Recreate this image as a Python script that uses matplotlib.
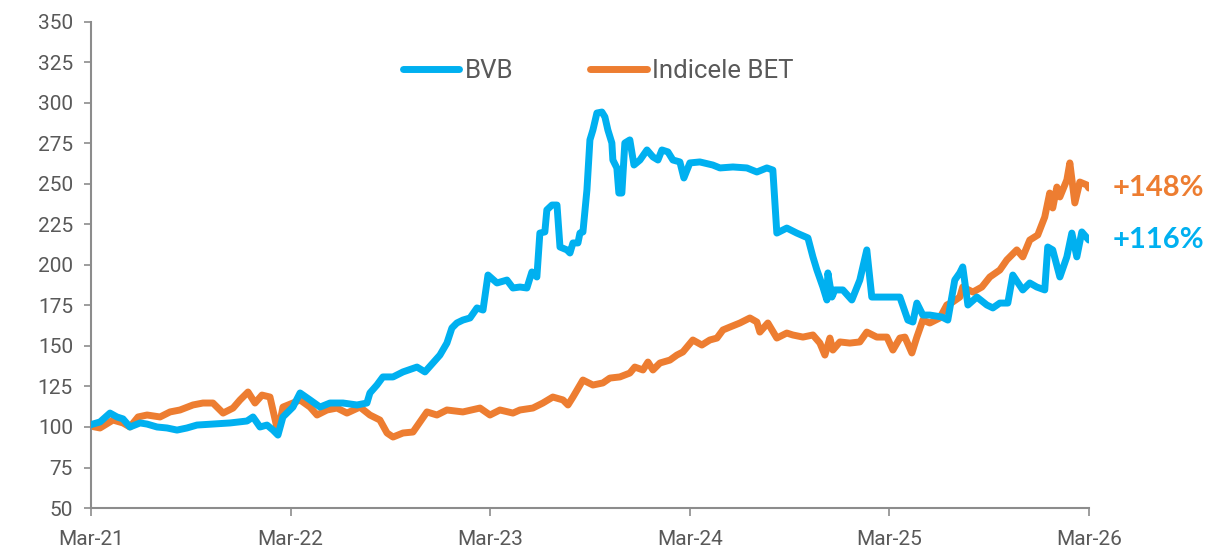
import matplotlib
matplotlib.use("Agg")
import matplotlib.pyplot as plt
import numpy as np

# months since Mar-2021
bvb_months = [0, 0.54, 1.14, 1.56, 1.92, 2.34, 2.95, 3.37, 3.97, 4.57, 5.17, 5.77, 6.37, 7.33, 8.36,
              9.38, 9.74, 10.16, 10.58, 10.94, 11.24, 11.54, 12.14, 12.57, 13.17, 13.77, 14.37, 15.15,
              15.99, 16.59, 16.77, 17.19, 17.55, 18.16, 18.76, 19.60, 20.08, 20.56, 20.98, 21.40, 21.70,
              22.00, 22.36, 22.79, 23.21, 23.57, 23.87, 24.41, 25.01, 25.37, 25.79, 26.21, 26.51, 26.81,
              26.99, 27.29, 27.41, 27.72, 28.02, 28.20, 28.62, 28.80, 28.98, 29.28, 29.40, 29.58, 29.82,
              30.00, 30.18, 30.42, 30.72, 30.90, 31.08, 31.32, 31.38, 31.62, 31.74, 31.92, 32.10, 32.40,
              32.65, 33.01, 33.43, 33.79, 34.09, 34.33, 34.69, 34.99, 35.41, 35.65, 36.01, 36.61, 37.39,
              37.82, 38.60, 39.44, 40.04, 40.64, 41.00, 41.24, 41.84, 42.44, 43.11, 43.41, 43.65, 44.01,
              44.25, 44.31, 44.55, 44.73, 45.21, 45.75, 46.23, 46.65, 46.95, 47.43, 48.22, 48.64, 49.12,
              49.42, 49.66, 50.02, 50.44, 51.16, 51.52, 51.94, 52.24, 52.42, 52.73, 53.27, 53.87, 54.23,
              54.65, 55.13, 55.43, 56.03, 56.45, 56.87, 57.35, 57.53, 57.83, 58.26, 58.68, 58.98, 59.28,
              59.58, 60.0]
bvb_values = [101.5, 103.1, 108.6, 106.2, 105.0, 100.0, 102.5, 101.8, 100.0, 99.4, 98.1, 99.4, 101.2, 101.8,
              102.5, 103.7, 106.2, 100.0, 101.2, 98.1, 95.0, 106.2, 112.3, 121.0, 116.7, 112.3, 114.8, 114.8,
              113.6, 114.8, 121.0, 125.9, 130.9, 130.9, 134.0, 137.0, 134.0, 139.5, 144.4, 151.8, 161.1,
              164.2, 166.0, 167.3, 173.5, 172.2, 193.8, 188.9, 190.7, 185.8, 186.4, 185.8, 195.7, 192.6,
              219.7, 220.4, 234.0, 237.0, 237.0, 211.1, 209.3, 207.4, 213.6, 213.6, 219.7, 220.4, 246.3,
              277.2, 283.3, 293.8, 294.4, 291.4, 283.3, 275.3, 264.8, 259.9, 244.4, 244.4, 275.3, 277.2,
              261.7, 264.8, 271.0, 266.7, 264.8, 271.0, 269.8, 264.8, 263.6, 253.7, 263.0, 263.6, 261.7,
              259.9, 260.5, 259.9, 257.4, 259.9, 258.6, 219.7, 222.8, 219.7, 216.7, 205.0, 196.9, 186.4,
              178.4, 195.1, 180.2, 184.6, 184.6, 178.4, 190.7, 209.3, 180.2, 180.2, 180.2, 180.2, 166.0,
              164.8, 176.5, 169.1, 169.1, 167.9, 166.0, 190.7, 195.1, 198.8, 175.3, 180.2, 175.3, 173.5,
              176.5, 176.5, 193.8, 184.6, 188.9, 186.4, 184.6, 211.1, 209.3, 192.6, 205.0, 219.7, 205.0,
              220.4, 215.4]

bet_months = [0, 0.54, 1.32, 1.92, 2.34, 2.83, 3.37, 4.15, 4.75, 5.35, 6.13, 6.73, 7.33, 7.94, 8.54, 8.96,
              9.44, 9.86, 10.28, 10.76, 11.24, 11.54, 12.14, 12.57, 13.17, 13.59, 14.19, 14.79, 15.39,
              16.17, 16.77, 17.37, 17.80, 18.16, 18.76, 19.36, 19.78, 20.20, 20.80, 21.40, 22.36, 23.39,
              23.99, 24.59, 25.37, 25.79, 26.57, 27.17, 27.77, 28.38, 28.68, 28.98, 29.58, 30.18, 30.78,
              31.20, 31.80, 32.40, 32.70, 33.19, 33.49, 33.79, 34.21, 34.81, 35.23, 35.59, 36.19, 36.73,
              37.21, 37.64, 38.00, 38.42, 39.02, 39.62, 40.04, 40.22, 40.70, 41.24, 41.84, 42.20, 42.81,
              43.41, 43.83, 44.13, 44.43, 44.61, 45.03, 45.63, 46.23, 46.65, 47.25, 47.86, 48.22, 48.64,
              48.94, 49.36, 49.66, 50.02, 50.44, 51.04, 51.46, 51.82, 52.24, 52.42, 53.03, 53.57, 54.05,
              54.65, 55.07, 55.67, 56.03, 56.45, 56.93, 57.35, 57.65, 57.83, 58.08, 58.26, 58.68, 58.86,
              59.16, 59.46, 59.88, 60.0]
bet_values = [100.5, 99.4, 104.3, 102.5, 100.0, 106.2, 107.4, 106.2, 109.3, 110.5, 113.6, 114.8, 114.8, 108.6,
              111.7, 116.7, 121.6, 114.8, 119.7, 118.5, 96.9, 112.3, 114.8, 116.7, 112.3, 107.4, 110.5, 111.7,
              108.6, 112.3, 107.4, 104.3, 96.3, 93.8, 96.3, 96.9, 103.1, 109.3, 107.4, 110.5, 109.3, 111.7,
              107.4, 110.5, 108.6, 110.5, 111.7, 114.8, 118.5, 116.7, 113.6, 118.5, 129.0, 125.9, 127.2,
              130.2, 130.9, 133.3, 137.0, 135.2, 140.1, 135.2, 139.5, 141.3, 144.4, 146.3, 153.7, 150.6,
              153.7, 154.9, 159.9, 161.7, 164.2, 167.3, 164.8, 158.6, 164.2, 154.9, 158.0, 156.8, 155.5,
              156.8, 151.8, 144.4, 154.9, 147.5, 152.5, 151.8, 152.5, 158.6, 155.5, 155.5, 147.5, 154.9,
              155.5, 145.7, 155.5, 166.0, 164.2, 167.3, 175.3, 177.2, 180.2, 186.4, 183.3, 186.4, 192.6,
              196.9, 203.1, 209.3, 205.0, 215.4, 218.5, 229.6, 244.4, 235.2, 248.1, 242.0, 252.5, 263.0,
              238.3, 251.2, 249.4, 247.5]

series_names = ["BVB", "Indicele BET"]
end_labels = ["+116%", "+148%"]
x_ticks = [0, 12, 24, 36, 48, 60]
x_labels = ["Mar-21", "Mar-22", "Mar-23", "Mar-24", "Mar-25", "Mar-26"]
y_ticks = list(range(50, 351, 25))

BLUE = "#00B0F0"
ORANGE = "#ED7D31"
GREY = "#595959"

plt.rcParams['font.family'] = ['Roboto', 'DejaVu Sans']

fig = plt.figure(figsize=(12.22, 5.52), dpi=100)
ax = fig.add_axes([0.0745, 0.0797, 0.8165, 0.8805])

ax.plot(bvb_months, bvb_values, color=BLUE, lw=5.0, solid_joinstyle='round',
        solid_capstyle='round', label=series_names[0], zorder=3)
ax.plot(bet_months, bet_values, color=ORANGE, lw=5.0, solid_joinstyle='round',
        solid_capstyle='round', label=series_names[1], zorder=2)

ax.set_xlim(0, 60)
ax.set_ylim(50, 350)
ax.set_yticks(y_ticks)
ax.set_xticks(x_ticks)
ax.set_xticklabels(x_labels)

for s in ["top", "right"]:
    ax.spines[s].set_visible(False)
for s in ["left", "bottom"]:
    ax.spines[s].set_color("#8C8C8C")
    ax.spines[s].set_linewidth(1.5)

ax.tick_params(axis='y', length=5, width=1.2, color="#8C8C8C", labelsize=15, labelcolor=GREY, pad=8)
ax.tick_params(axis='x', length=6, width=1.2, color="#8C8C8C", labelsize=15, labelcolor=GREY, pad=10)

leg = ax.legend(loc='center left', bbox_to_anchor=(0.3126, 0.9), ncol=2, frameon=False,
                fontsize=18.5, handlelength=2.2, columnspacing=3.0, handletextpad=0.2, borderpad=0,
                borderaxespad=0)
for t in leg.get_texts():
    t.set_color(GREY)
for h in leg.legend_handles:
    h.set_solid_capstyle('round')
    h.set_linewidth(5.0)

ax.annotate(end_labels[1], xy=(1.0, bet_values[-1]), xycoords=('axes fraction', 'data'),
            xytext=(17, 0), textcoords='offset points', color=ORANGE, fontsize=21,
            fontweight='bold', va='center', ha='left', family=['Lato', 'DejaVu Sans'])
ax.annotate(end_labels[0], xy=(1.0, bvb_values[-1]), xycoords=('axes fraction', 'data'),
            xytext=(17, 0), textcoords='offset points', color=BLUE, fontsize=21,
            fontweight='bold', va='center', ha='left', family=['Lato', 'DejaVu Sans'])

fig.savefig("out.png", dpi=100)
